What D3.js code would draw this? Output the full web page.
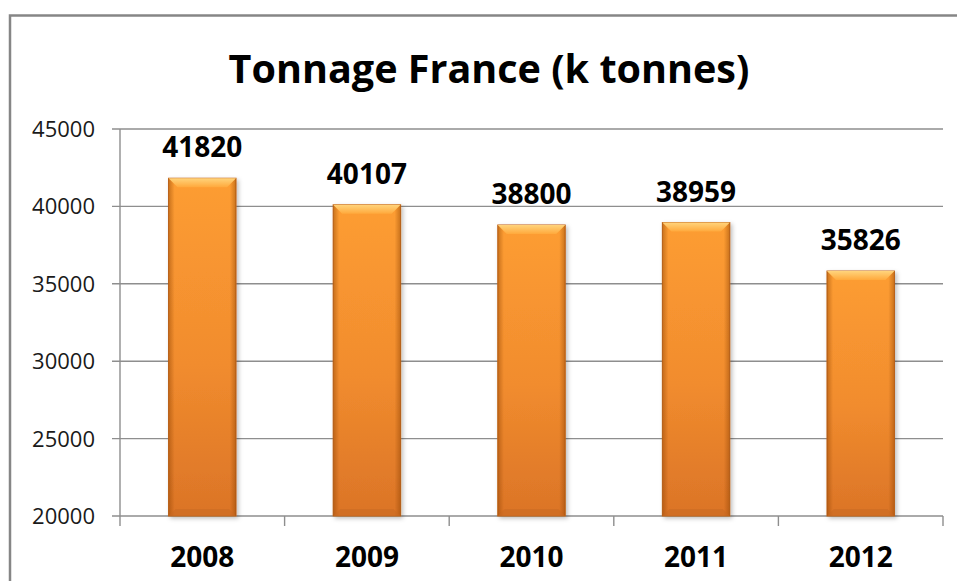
<!DOCTYPE html>
<html>
<head>
<meta charset="utf-8">
<script src="https://cdn.jsdelivr.net/npm/d3@7"></script>
<style>
  html, body { margin: 0; padding: 0; background: #fff; }
  svg { display: block; }
  text { font-family: "Open Sans", "DejaVu Sans", sans-serif; }
</style>
</head>
<body>
<div id="chart"></div>
<script>
// chart data
var years = ["2008", "2009", "2010", "2011", "2012"];
var tonnage = [41820, 40107, 38800, 38959, 35826];
var yTicks = [20000, 25000, 30000, 35000, 40000, 45000];
var titleText = "Tonnage France (k tonnes)";

var totwidth = 957,
    totheight = 581,
    margin = {top: 129, left: 120, right: 14, bottom: 65},
    width = totwidth - margin.left - margin.right,
    height = totheight - margin.top - margin.bottom;

var svg = d3.select("#chart").append("svg")
    .attr("width", totwidth)
    .attr("height", totheight);

// gradients for the bevelled orange bars
var defs = svg.append("defs");
var gV = defs.append("linearGradient").attr("id", "barV")
    .attr("x1", 0).attr("y1", 0).attr("x2", 0).attr("y2", 1);
gV.append("stop").attr("offset", "0%").attr("stop-color", "#fd9d32");
gV.append("stop").attr("offset", "55%").attr("stop-color", "#f18c2e");
gV.append("stop").attr("offset", "100%").attr("stop-color", "#db7427");

var gH = defs.append("linearGradient").attr("id", "barH")
    .attr("x1", 0).attr("y1", 0).attr("x2", 1).attr("y2", 0);
gH.append("stop").attr("offset", "0%").attr("stop-color", "#8a3f00").attr("stop-opacity", 0.45);
gH.append("stop").attr("offset", "9%").attr("stop-color", "#8a3f00").attr("stop-opacity", 0);
gH.append("stop").attr("offset", "91%").attr("stop-color", "#8a3f00").attr("stop-opacity", 0);
gH.append("stop").attr("offset", "100%").attr("stop-color", "#8a3f00").attr("stop-opacity", 0.45);

var gTop = defs.append("linearGradient").attr("id", "barTop")
    .attr("x1", 0).attr("y1", 0).attr("x2", 0).attr("y2", 1);
gTop.append("stop").attr("offset", "0%").attr("stop-color", "#ffd47c");
gTop.append("stop").attr("offset", "100%").attr("stop-color", "#ffa93c");

var shadow = defs.append("filter").attr("id", "shadow")
    .attr("x", "-20%").attr("y", "-20%").attr("width", "140%").attr("height", "140%");
shadow.append("feDropShadow").attr("dx", 2).attr("dy", 2)
    .attr("stdDeviation", 2).attr("flood-color", "#000").attr("flood-opacity", 0.25);

// outer frame (cut off on the right and bottom like the reference)
svg.append("rect")
    .attr("x", 10).attr("y", 15.5)
    .attr("width", 1000).attr("height", 700)
    .attr("fill", "none")
    .attr("stroke", "#868686")
    .attr("stroke-width", 2.5);

// title, fitted to the width it takes in the reference
var title = svg.append("text")
    .attr("x", 489).attr("y", 83)
    .attr("text-anchor", "middle")
    .style("font-weight", "bold")
    .style("font-size", "40px")
    .attr("fill", "#000")
    .text(titleText);
var tl = title.node().getComputedTextLength();
title.style("font-size", (40 * 521 / tl) + "px");

var g = svg.append("g")
    .attr("transform", "translate(" + margin.left + "," + margin.top + ")");

var x = d3.scaleBand().domain(years).range([0, width]).padding(0);
var y = d3.scaleLinear().domain([20000, 45000]).range([height, 0]);

// horizontal gridlines (with the little left tick)
g.selectAll(".grid")
  .data(yTicks)
  .enter().append("line")
    .attr("class", "grid")
    .attr("x1", -8).attr("x2", width)
    .attr("y1", function(d) { return y(d); })
    .attr("y2", function(d) { return y(d); })
    .attr("stroke", "#8e8e8e")
    .attr("stroke-width", 1.4);

// y axis line
g.append("line")
    .attr("x1", 0).attr("x2", 0)
    .attr("y1", y(45000)).attr("y2", y(20000))
    .attr("stroke", "#8e8e8e").attr("stroke-width", 1.4);

// y labels
g.selectAll(".ylab")
  .data(yTicks)
  .enter().append("text")
    .attr("class", "ylab")
    .attr("x", -25)
    .attr("y", function(d) { return y(d); })
    .attr("dy", "0.36em")
    .attr("text-anchor", "end")
    .style("font-size", "22px")
    .attr("fill", "#1a1a1a")
    .text(function(d) { return d; });

// bottom axis ticks at category boundaries
var bounds = years.map(function(d) { return x(d); }).concat([width]);
g.selectAll(".xtick")
  .data(bounds)
  .enter().append("line")
    .attr("class", "xtick")
    .attr("x1", function(d) { return d; }).attr("x2", function(d) { return d; })
    .attr("y1", height).attr("y2", height + 10)
    .attr("stroke", "#8e8e8e").attr("stroke-width", 1.4);

// bars
var barW = x.bandwidth() * 0.41;
var bars = g.selectAll(".bar")
  .data(tonnage)
  .enter().append("g")
    .attr("class", "bar")
    .attr("transform", function(d, i) {
      return "translate(" + (x(years[i]) + x.bandwidth() / 2 - barW / 2) + "," + y(d) + ")";
    });

bars.append("rect")
    .attr("width", barW)
    .attr("height", function(d) { return height - y(d); })
    .attr("fill", "url(#barV)")
    .attr("stroke", "#c4681d")
    .attr("stroke-width", 1)
    .attr("filter", "url(#shadow)");

bars.append("rect")
    .attr("width", barW)
    .attr("height", function(d) { return height - y(d); })
    .attr("fill", "url(#barH)");

// top bevel
bars.append("path")
    .attr("d", "M0,0 H" + barW + " L" + (barW - 9) + ",9 H9 Z")
    .attr("fill", "url(#barTop)");

// bottom bevel
bars.append("path")
    .attr("d", function(d) {
      var h = height - y(d);
      return "M0," + h + " H" + barW + " L" + (barW - 7) + "," + (h - 7) + " H7 Z";
    })
    .attr("fill", "#c96a22").attr("opacity", 0.55);

// value labels
g.selectAll(".val")
  .data(tonnage)
  .enter().append("text")
    .attr("class", "val")
    .attr("x", function(d, i) { return x(years[i]) + x.bandwidth() / 2; })
    .attr("y", function(d) { return y(d) - 21; })
    .attr("text-anchor", "middle")
    .style("font-weight", "bold")
    .style("font-size", "28px")
    .attr("fill", "#000")
    .text(function(d) { return d; });

// year labels
g.selectAll(".year")
  .data(years)
  .enter().append("text")
    .attr("class", "year")
    .attr("x", function(d) { return x(d) + x.bandwidth() / 2; })
    .attr("y", height + 51)
    .attr("text-anchor", "middle")
    .style("font-weight", "bold")
    .style("font-size", "28px")
    .attr("fill", "#000")
    .text(function(d) { return d; });
</script>
</body>
</html>
